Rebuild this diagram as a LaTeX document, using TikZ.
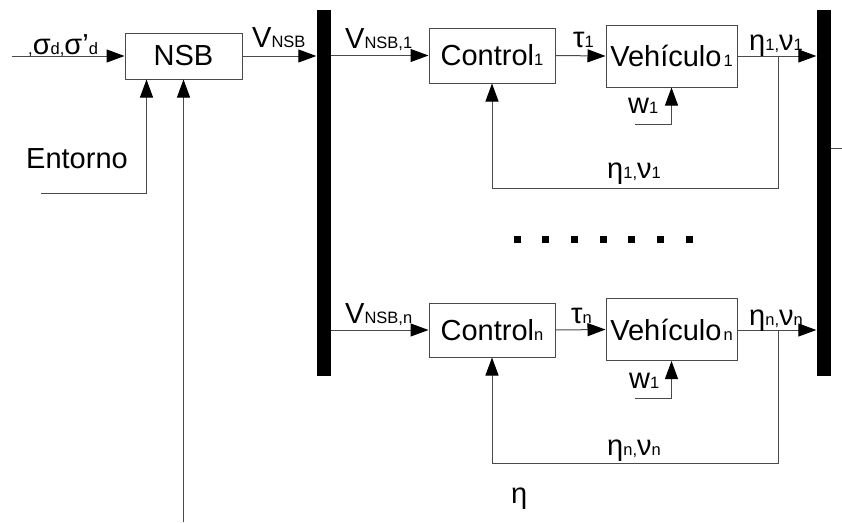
\documentclass[tikz,border=0pt]{standalone}
\usepackage{fontspec}
\setmainfont{Liberation Sans}
\usetikzlibrary{arrows.meta}
\definecolor{linegray}{HTML}{4A4A4A}
\newcommand{\sub}[1]{{\fontsize{16.5}{16.5}\selectfont #1}}

\begin{document}
\begin{tikzpicture}[x=1pt, y=-1pt,
  block/.style={draw=linegray, line width=1pt, inner sep=0pt,
    font=\fontsize{29}{31}\selectfont},
  bus/.style={fill=black, draw=none, inner sep=0pt,
    minimum width=14pt, minimum height=366pt},
  lbl/.style={anchor=base west, inner sep=0pt,
    font=\fontsize{29}{31}\selectfont},
  wire/.style={draw=linegray, line width=1pt},
  flow/.style={wire, -{Triangle[length=18pt, width=13pt, color=black]}}
]
  \useasboundingbox (0,0) rectangle (842,522);

  % blocks
  \node[block, minimum width=117pt, minimum height=46pt] (nsb) at (183.5,56) {NSB};
  \node[bus] (busL) at (323.5,193) {};
  \node[bus] (busR) at (823.5,193) {};
  \node[block, minimum width=126pt, minimum height=55pt] (ctl1) at (492,55.5) {Control\sub{1}};
  \node[block, minimum width=131pt, minimum height=62pt] (veh1) at (671.5,56) {Vehículo\kern2pt\sub{1}};
  \node[block, minimum width=126pt, minimum height=54pt] (ctln) at (492,330) {Control\sub{n}};
  \node[block, minimum width=131pt, minimum height=62pt] (vehn) at (671.5,329.5) {Vehículo\kern2pt\sub{n}};

  % free ends
  \coordinate (in) at (12,56);
  \coordinate (env) at (41,193);
  \coordinate (etain) at (183.5,522);
  \coordinate (br1) at (778,56);
  \coordinate (brn) at (778,330);
  \coordinate (w1a) at (635,124);
  \coordinate (wna) at (635,398);
  \coordinate (tick) at (842,148);

  % connectors
  \draw[flow] (in) -- (nsb.west);
  \draw[flow] (nsb.east) -- (nsb.east -| busL.west);
  \draw[flow] (env) -| ([xshift=22pt]nsb.south west);
  \draw[flow] (etain) -- (nsb.south);

  \draw[flow] (busL.east |- ctl1.west) -- (ctl1.west);
  \draw[flow] (ctl1.east) -- (veh1.west);
  \draw[flow] (veh1.east) -- (veh1.east -| busR.west);
  \draw[flow] (br1) -- ++(0,132) -| (ctl1.south);
  \draw[flow] (w1a) -| (veh1.south);

  \draw[flow] (busL.east |- ctln.west) -- (ctln.west);
  \draw[flow] (ctln.east) -- (vehn.west);
  \draw[flow] (vehn.east |- brn) -- (brn -| busR.west);
  \draw[flow] (brn) -- ++(0,133) -| (ctln.south);
  \draw[flow] (wna) -| (vehn.south);

  \draw[wire] (busR.east |- tick) -- (tick);

  % dots
  \foreach \i in {0,...,6}
    \fill ({513.5+28.7*\i},236) rectangle ++(7,7);

  % labels
  \node[lbl] (sigl) at (28,54) {\sub{,}σ\sub{d,}σ’\sub{d}};
  \node[lbl] (vnsbl) at (252,47) {V\sub{NSB}};
  \node[lbl] (envl) at (26,168) {Entorno};
  \node[lbl] (v1l) at (345,48) {V\sub{NSB,1}};
  \node[lbl] (tau1l) at (573,47) {τ\sub{1}};
  \node[lbl] (out1l) at (749,50) {η\sub{1,}ν\sub{1}};
  \node[lbl] (w1l) at (628,113) {w\sub{1}};
  \node[lbl] (fb1l) at (607,178) {η\sub{1,}ν\sub{1}};
  \node[lbl] (vnl) at (345,323) {V\sub{NSB,n}};
  \node[lbl] (taunl) at (571,323) {τ\sub{n}};
  \node[lbl] (outnl) at (749,325) {η\sub{n,}ν\sub{n}};
  \node[lbl] (wnl) at (629,388) {w\sub{1}};
  \node[lbl] (fbnl) at (607,455) {η\sub{n,}ν\sub{n}};
  \node[lbl] (etal) at (511,503) {η};
\end{tikzpicture}
\end{document}
